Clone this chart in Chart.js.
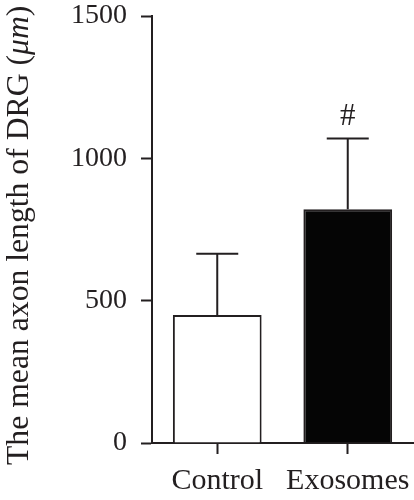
<!DOCTYPE html>
<html>
<head>
<meta charset="utf-8">
<script src="https://cdn.jsdelivr.net/npm/chart.js@4/dist/chart.umd.min.js"></script>
<style>
  html, body { margin: 0; padding: 0; background: #ffffff; }
  #wrap { width: 414px; height: 500px; position: relative; }
</style>
</head>
<body>
<div id="wrap"><canvas id="c"></canvas></div>
<script>
const categories = ['Control', 'Exosomes'];
const meanLength = [450, 821];
const sdLength = [215, 249];
const significance = ['', '#'];
const yTickValues = [0, 500, 1000, 1500];
const barFills = ['#ffffff', '#050505'];
const yTitleParts = [
  { text: 'The mean axon length of DRG (', italic: false },
  { text: '\u03bcm', italic: true },
  { text: ')', italic: false }
];

const FONT = "'Liberation Serif', 'Times New Roman', serif";
const INK = '#231f20';

const errorBarPlugin = {
  id: 'errorBars',
  afterDatasetsDraw(chart) {
    const ctx = chart.ctx;
    const meta = chart.getDatasetMeta(0);
    const yScale = chart.scales.y;
    ctx.save();
    ctx.strokeStyle = INK;
    ctx.lineWidth = 2;
    meta.data.forEach((bar, i) => {
      const x = bar.x;
      const yTop = yScale.getPixelForValue(meanLength[i] + sdLength[i]);
      const yBar = bar.y;
      ctx.beginPath();
      ctx.moveTo(x, yBar);
      ctx.lineTo(x, yTop);
      ctx.moveTo(x - 21, yTop);
      ctx.lineTo(x + 21, yTop);
      ctx.stroke();
      if (significance[i]) {
        ctx.fillStyle = INK;
        ctx.font = '31px ' + FONT;
        ctx.textAlign = 'center';
        ctx.textBaseline = 'alphabetic';
        ctx.fillText(significance[i], x, yTop - 13);
      }
    });
    ctx.restore();
  }
};

const yTitlePlugin = {
  id: 'yTitleMixed',
  afterDraw(chart) {
    const ctx = chart.ctx;
    ctx.save();
    ctx.translate(28, 465);
    ctx.rotate(-Math.PI / 2);
    ctx.fillStyle = INK;
    ctx.textAlign = 'left';
    ctx.textBaseline = 'alphabetic';
    let pos = 0;
    yTitleParts.forEach(p => {
      ctx.font = (p.italic ? 'italic ' : '') + '31.7px ' + FONT;
      ctx.fillText(p.text, pos, 0);
      pos += ctx.measureText(p.text).width;
    });
    ctx.restore();
  }
};

new Chart(document.getElementById('c'), {
  type: 'bar',
  data: {
    labels: categories,
    datasets: [{
      data: meanLength,
      backgroundColor: barFills,
      borderColor: INK,
      borderWidth: 2,
      borderSkipped: 'bottom',
      categoryPercentage: 1.0,
      barPercentage: 0.68
    }]
  },
  options: {
    responsive: true,
    maintainAspectRatio: false,
    animation: false,
    devicePixelRatio: 1,
    layout: { padding: { top: 16, right: 1, left: 0, bottom: 0 } },
    plugins: { legend: { display: false }, tooltip: { enabled: false } },
    scales: {
      x: {
        grid: {
          offset: false,
          drawOnChartArea: false,
          drawTicks: true,
          tickLength: 11,
          tickWidth: 2,
          tickColor: INK
        },
        border: { display: true, color: INK, width: 2 },
        ticks: {
          color: INK,
          padding: 9,
          font: { family: FONT, size: 30 },
          maxRotation: 0
        },
        afterFit(scale) { scale.height = 57; scale.paddingLeft = 0; scale.paddingRight = 0; }
      },
      y: {
        min: 0,
        max: 1500,
        afterBuildTicks(scale) { scale.ticks = yTickValues.map(v => ({ value: v })); },
        grid: {
          drawOnChartArea: false,
          drawTicks: true,
          tickLength: 11,
          tickWidth: 2,
          tickColor: INK
        },
        border: { display: true, color: INK, width: 2 },
        ticks: {
          color: INK,
          padding: 14,
          font: { family: FONT, size: 28 },
          callback: (v) => String(v)
        },
        title: { display: false },
        afterFit(scale) { scale.width = 152; scale.paddingTop = 0; scale.paddingBottom = 0; }
      }
    }
  },
  plugins: [errorBarPlugin, yTitlePlugin]
});
</script>
</body>
</html>
